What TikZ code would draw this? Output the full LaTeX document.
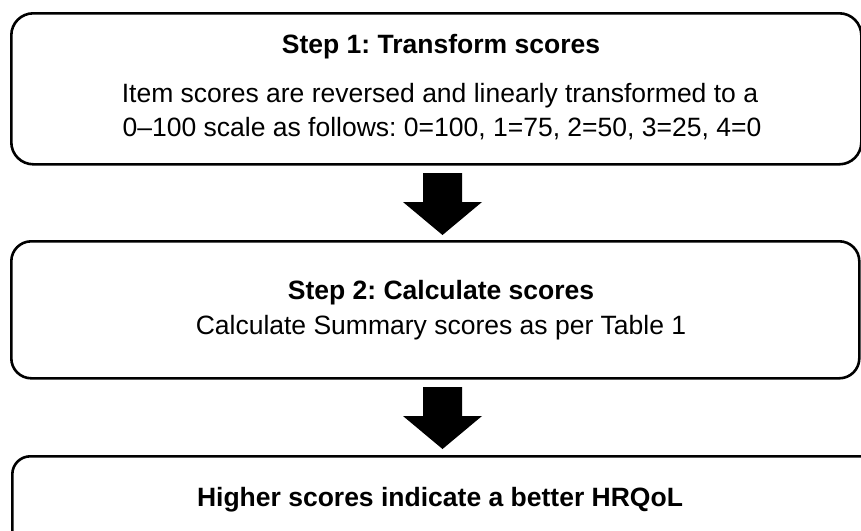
\documentclass[tikz,border=0pt]{standalone}
\usepackage{fontspec}
\setmainfont{Liberation Sans}
\frenchspacing
\begin{document}
\begin{tikzpicture}[x=1pt,y=-1pt,
  box/.style={draw=black, line width=2.6pt, rounded corners=22pt, inner sep=0pt, anchor=north west},
  txt/.style={anchor=base, inner sep=0pt, font=\fontsize{26.5}{31}\selectfont},
  ttl/.style={txt, font=\fontsize{26.5}{31}\selectfont\bfseries},
  blockarrow/.pic={\fill[black] (-19.5,0) -- (19.5,0) -- (19.5,29) -- (39.5,29) -- (0,62) -- (-39.5,29) -- (-19.5,29) -- cycle;}]
\useasboundingbox (0,0) rectangle (861,530);
\fill[white] (0,0) rectangle (861,530);
\node[box, minimum width=850pt, minimum height=151pt] (b1) at (10,12) {};
\node[box, minimum width=848pt, minimum height=137pt, rounded corners=20pt] (b2) at (10,240) {};
\begin{scope}
\clip (0,0) rectangle (861,530);
\node[box, minimum width=880pt, minimum height=120pt, rounded corners=18pt] (b3) at (11,455) {};
\end{scope}
\node[ttl] (t1) at (441,53) {Step 1: Transform scores};
\node[txt] (l1a) at (440,102) {Item scores are reversed and linearly transformed to a};
\node[txt] (l1b) at (442,136) {0–100 scale as follows: 0=100, 1=75, 2=50, 3=25, 4=0};
\node[ttl] (t2) at (441,299) {Step 2: Calculate scores};
\node[txt] (l2) at (441,334) {Calculate Summary scores as per Table 1};
\node[ttl] (t3) at (440,506) {Higher scores indicate a better HRQoL};
\coordinate (a1) at (442.5,173);
\coordinate (a2) at (442.5,387);
\pic at (a1) {blockarrow};
\pic at (a2) {blockarrow};
\end{tikzpicture}
\end{document}
